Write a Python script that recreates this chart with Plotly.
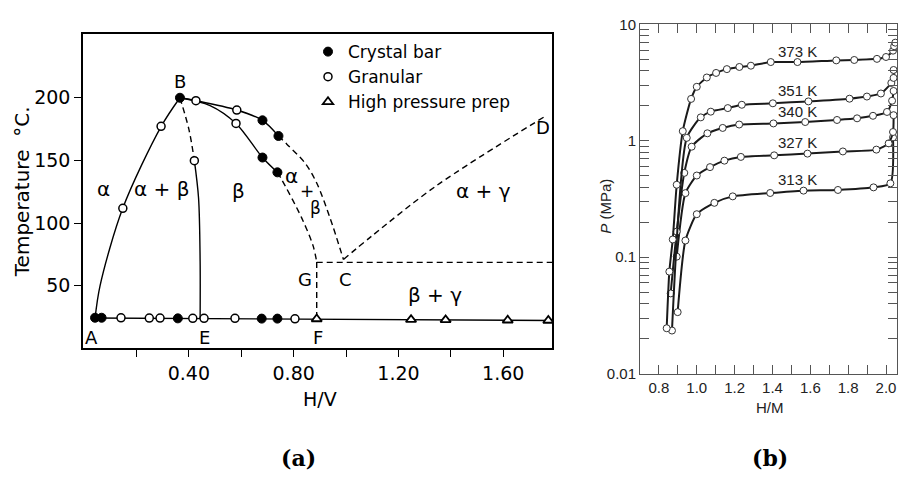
import math
import plotly.graph_objects as go

# ---------------- Panel (a): V-H phase diagram ----------------
cb_x = [0.366, 0.681, 0.742, 0.681, 0.738, 0.042, 0.067, 0.358, 0.678, 0.738]
cb_y = [200, 182, 169.5, 152.3, 140.5, 24.5, 24.5, 24.0, 23.8, 23.8]
gr_x = [0.427, 0.583, 0.580, 0.294, 0.421, 0.148, 0.141, 0.249, 0.290, 0.415, 0.458, 0.576, 0.805]
gr_y = [197.7, 190.2, 179.5, 177.2, 149.8, 111.8, 24.4, 24.2, 24.2, 24.0, 24.0, 24.0, 23.6]
hp_x = [0.888, 1.248, 1.380, 1.617, 1.772]
hp_y = [23.5, 23.0, 22.8, 22.5, 22.3]

ab_x = [0.042, 0.061, 0.148, 0.294, 0.366]
ab_y = [24, 50, 112, 177, 200]
be_dash_x = [0.366, 0.400, 0.421]
be_dash_y = [200, 175, 150]
e_x = [0.421, 0.437, 0.443, 0.443]
e_y = [150, 120, 70, 24]
outer_x = [0.366, 0.427, 0.583, 0.681, 0.742]
outer_y = [200, 197.7, 190.2, 182, 169.5]
outer_dash_x = [0.742, 0.774, 0.844, 0.888, 0.939, 0.990]
outer_dash_y = [169.5, 163, 147.7, 132, 104, 71]
inner_x = [0.366, 0.481, 0.580, 0.681, 0.738]
inner_y = [200, 193.8, 179.5, 152.3, 140.5]
inner_dash_x = [0.738, 0.754, 0.831, 0.874, 0.888]
inner_dash_y = [140.5, 134.9, 104, 82, 69]
gf_x = [0.888, 0.888]
gf_y = [69, 24]
gc_x = [0.888, 1.786]
gc_y = [68.7, 68.7]
cd_x = [0.990, 1.100, 1.346, 1.766]
cd_y = [71, 90, 130, 186]
base_x = [0.030, 1.786]
base_y = [24.3, 22.3]

a_labels = ["B", "A", "E", "F", "G", "C", "D", "α", "α + β", "β", "α + γ", "β + γ", "α", "+", "β"]
a_lab_x = [0.366, 0.029, 0.458, 0.894, 0.843, 0.996, 1.752, 0.073, 0.294, 0.588, 1.524, 1.340, 0.790, 0.850, 0.882]
a_lab_y = [213, 9, 9, 9, 55, 55, 176, 127, 127, 126, 126, 42.5, 137.7, 126, 112]

a_xtickvals = [0.2, 0.4, 0.6, 0.8, 1.0, 1.2, 1.4, 1.6]
a_xticktext = ["", "0.40", "", "0.80", "", "1.20", "", "1.60"]
a_ytickvals = [50, 100, 150, 200]
a_yticktext = ["50", "100", "150", "200"]

# ---------------- Panel (b): P-C isotherms ----------------
x_313 = [0.899, 0.940, 1.000, 1.093, 1.190, 1.388, 1.564, 1.746, 1.934, 2.023, 2.037]
p_313 = [0.0337, 0.139, 0.234, 0.293, 0.333, 0.356, 0.373, 0.378, 0.398, 0.431, 1.07]
x_327 = [0.894, 0.940, 1.000, 1.070, 1.146, 1.233, 1.409, 1.585, 1.772, 1.949, 2.014, 2.037, 2.040]
p_327 = [0.101, 0.355, 0.503, 0.594, 0.675, 0.727, 0.750, 0.776, 0.810, 0.840, 0.950, 1.19, 1.66]
x_340 = [0.862, 0.894, 0.934, 0.973, 1.056, 1.137, 1.224, 1.405, 1.573, 1.741, 1.847, 1.931, 2.005, 2.032, 2.040]
p_340 = [0.0488, 0.166, 0.53, 0.89, 1.16, 1.29, 1.38, 1.41, 1.45, 1.51, 1.56, 1.64, 1.77, 2.21, 2.68]
x_351 = [0.869, 0.947, 1.021, 1.074, 1.164, 1.238, 1.402, 1.590, 1.807, 1.899, 1.973, 2.028, 2.040, 2.040]
p_351 = [0.0234, 1.06, 1.59, 1.78, 1.91, 2.04, 2.10, 2.18, 2.30, 2.40, 2.55, 3.14, 3.47, 4.06]
x_373 = [0.841, 0.855, 0.873, 0.894, 0.926, 0.970, 1.000, 1.053, 1.102, 1.159, 1.225, 1.286, 1.391,
         1.532, 1.737, 1.832, 1.952, 2.000, 2.037, 2.043, 2.049]
p_373 = [0.0245, 0.0751, 0.142, 0.419, 1.21, 2.29, 2.91, 3.50, 3.83, 4.13, 4.31, 4.42, 4.75,
         4.75, 4.91, 4.95, 5.06, 5.25, 5.95, 6.50, 6.97]

temp_labels = ["373 K", "351 K", "340 K", "327 K", "313 K"]
temp_lab_x = [1.53, 1.53, 1.53, 1.53, 1.53]
temp_lab_p = [5.9, 2.7, 1.8, 0.96, 0.465]

b_xtickvals = [0.8, 0.9, 1.0, 1.1, 1.2, 1.3, 1.4, 1.5, 1.6, 1.7, 1.8, 1.9, 2.0]
b_xticktext = ["0.8", "", "1.0", "", "1.2", "", "1.4", "", "1.6", "", "1.8", "", "2.0"]
b_ytickvals = [0.01, 0.02, 0.03, 0.04, 0.05, 0.06, 0.07, 0.08, 0.09,
               0.1, 0.2, 0.3, 0.4, 0.5, 0.6, 0.7, 0.8, 0.9,
               1, 2, 3, 4, 5, 6, 7, 8, 9, 10]
b_yticktext = ["0.01", "", "", "", "", "", "", "", "",
               "0.1", "", "", "", "", "", "", "", "",
               "1", "", "", "", "", "", "", "", "", "10"]

W, H = 898, 477
FA = "DejaVu Sans"
FB = "Liberation Sans"

fig = go.Figure()

def aline(xs, ys, dash=None):
    fig.add_trace(go.Scatter(
        x=xs, y=ys, mode="lines", xaxis="x", yaxis="y", showlegend=False,
        line=dict(color="black", width=1.4, shape="spline", smoothing=0.9,
                  dash=dash if dash else "solid"),
        hoverinfo="skip"))

DASH = "6px,4px"
aline(ab_x, ab_y)
aline(be_dash_x, be_dash_y, DASH)
aline(e_x, e_y)
aline(outer_x, outer_y)
aline(outer_dash_x, outer_dash_y, DASH)
aline(inner_x, inner_y)
aline(inner_dash_x, inner_dash_y, DASH)
aline(gf_x, gf_y, DASH)
aline(gc_x, gc_y, DASH)
aline(cd_x, cd_y, DASH)
aline(base_x, base_y)

fig.add_trace(go.Scatter(x=cb_x, y=cb_y, mode="markers", name="Crystal bar", xaxis="x", yaxis="y",
                         marker=dict(symbol="circle", size=9, color="black",
                                     line=dict(color="black", width=1))))
fig.add_trace(go.Scatter(x=gr_x, y=gr_y, mode="markers", name="Granular", xaxis="x", yaxis="y",
                         marker=dict(symbol="circle", size=8, color="white",
                                     line=dict(color="black", width=1.5))))
fig.add_trace(go.Scatter(x=hp_x, y=hp_y, mode="markers", name="High pressure prep", xaxis="x", yaxis="y",
                         marker=dict(symbol="triangle-up", size=9, color="white",
                                     line=dict(color="black", width=1.8))))

for xs, ps in [(x_313, p_313), (x_327, p_327), (x_340, p_340), (x_351, p_351), (x_373, p_373)]:
    fig.add_trace(go.Scatter(
        x=xs, y=ps, mode="lines+markers", xaxis="x2", yaxis="y2", showlegend=False,
        line=dict(color="#1a1a1a", width=2, shape="spline", smoothing=0.6),
        marker=dict(symbol="circle", size=7, color="white", line=dict(color="#333", width=1))))

ann = []
for t, x, y in zip(a_labels, a_lab_x, a_lab_y):
    big = t in ("α", "α + β", "α + γ", "β + γ") or (t == "β" and x < 0.7)
    small = t in ("+",) or (t == "β" and x > 0.7)
    size = 17 if small else (20 if big else 18)
    ann.append(dict(x=x, y=y, xref="x", yref="y", text=t, showarrow=False,
                    xanchor="center", yanchor="middle",
                    font=dict(family=FA, size=size, color="black")))
for t, x, p in zip(temp_labels, temp_lab_x, temp_lab_p):
    ann.append(dict(x=x, y=math.log10(p), xref="x2", yref="y2", text=t, showarrow=False,
                    xanchor="center", yanchor="middle",
                    font=dict(family=FB, size=15, color="#222")))

def px(xp):
    return xp / W

def py(yp):
    return 1 - yp / H

def pann(text, x, y, font, angle=0):
    return dict(x=px(x), y=py(y), xref="paper", yref="paper", text=text, textangle=angle,
                showarrow=False, xanchor="center", yanchor="middle", font=font)

ann += [
    pann("Temperature  °C.", 22, 190, dict(family=FA, size=20, color="black"), -90),
    pann("H/V", 320, 404, dict(family=FA, size=19, color="black")),
    pann("<i>P</i> (MPa)", 606, 205, dict(family=FB, size=15, color="#222"), -90),
    pann("H/M", 770, 413, dict(family=FB, size=15, color="#222")),
    pann("<b>(a)</b>", 298, 466, dict(family="DejaVu Serif", size=22, color="black")),
    pann("<b>(b)</b>", 770, 466, dict(family="DejaVu Serif", size=22, color="black")),
]

fig.update_layout(
    width=W, height=H, margin=dict(l=0, r=0, t=0, b=0),
    paper_bgcolor="white", plot_bgcolor="white",
    annotations=ann,
    showlegend=True,
    legend=dict(x=px(308), y=py(26), xanchor="left", yanchor="top",
                bgcolor="rgba(0,0,0,0)", font=dict(family=FA, size=17, color="black"),
                tracegroupgap=0, itemwidth=30),
    xaxis=dict(domain=[83 / W, 552 / W], range=[-0.004, 1.786], showgrid=False, zeroline=False,
               showline=True, linecolor="black", linewidth=1.5, mirror=True,
               ticks="outside", ticklen=7, tickcolor="black", tickwidth=1.2,
               tickvals=a_xtickvals, ticktext=a_xticktext,
               tickfont=dict(family=FA, size=19, color="black"), anchor="y"),
    yaxis=dict(domain=[1 - 352 / H, 1 - 26 / H], range=[0, 250.8], showgrid=False, zeroline=False,
               showline=True, linecolor="black", linewidth=1.5, mirror=True,
               ticks="outside", ticklen=7, tickcolor="black", tickwidth=1.2,
               tickvals=a_ytickvals, ticktext=a_yticktext,
               tickfont=dict(family=FA, size=19, color="black"), anchor="x"),
    xaxis2=dict(domain=[640 / W, 897 / W], range=[0.7, 2.058], showgrid=False, zeroline=False,
                showline=True, linecolor="#555", linewidth=1, mirror="ticks",
                ticks="inside", ticklen=9, tickcolor="#555", tickwidth=1,
                tickvals=b_xtickvals, ticktext=b_xticktext,
                tickfont=dict(family=FB, size=15, color="#222"), anchor="y2"),
    yaxis2=dict(domain=[1 - 378 / H, 1 - 16 / H], type="log", range=[-2, 1], showgrid=False,
                zeroline=False, showline=True, linecolor="#555", linewidth=1, mirror="ticks",
                ticks="inside", ticklen=9, tickcolor="#555", tickwidth=1,
                tickvals=b_ytickvals, ticktext=b_yticktext,
                tickfont=dict(family=FB, size=15, color="#222"), anchor="x2"),
)

fig.write_html("out.html")
